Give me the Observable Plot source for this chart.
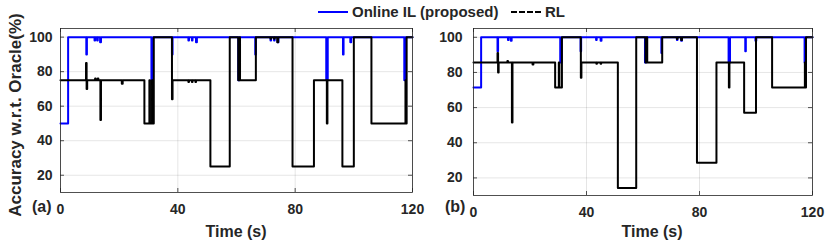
<!DOCTYPE html>
<html><head><meta charset="utf-8">
<script src="https://cdn.jsdelivr.net/npm/d3@7"></script>
<script src="https://cdn.jsdelivr.net/npm/@observablehq/plot@0.6"></script>
<style>
body{margin:0;background:#fff;}
#wrap{position:relative;width:830px;height:244px;font-family:"Liberation Sans",Arial,sans-serif;font-weight:bold;color:#262626;overflow:hidden;background:#fff}
.abs{position:absolute;white-space:nowrap;line-height:1}
svg{position:absolute;top:0}
</style></head><body><div id="wrap"></div>
<script>
// ---- tick labels / categories ----
const xTicks = [0, 40, 80, 120];
const yTicks = [20, 40, 60, 80, 100];
const seriesNames = ["Online IL (proposed)", "RL"];
const seriesColors = ["#0000ff", "#000000"];
const panelLabels = ["(a)", "(b)"];
const xTitle = "Time (s)";
const yTitle = "Accuracy w.r.t. Oracle(%)";

// ---- panel (a): Online IL (step breakpoints: time, accuracy) ----
const aIL_t = [0, 2.6, 8.8, 9.0, 11.6, 11.8, 12.5, 12.7, 13.5, 13.8, 31.0, 31.5, 38.0, 38.2, 43.6, 43.8, 44.8, 45.0, 46.2, 46.5, 60.6, 61.0, 66.4, 66.6, 71.6, 71.8, 72.8, 73.0, 74.0, 74.3, 90.6, 91.1, 96.3, 96.5, 98.8, 99.1, 117.2, 117.6, 120];
const aIL_v = [50, 100, 90, 100, 98, 100, 98, 100, 97, 100, 75, 100, 90, 100, 98, 100, 98, 100, 97, 100, 75, 100, 90, 100, 98, 100, 98, 100, 97, 100, 75, 100, 90, 100, 97, 100, 75, 100, 100];
// ---- panel (a): RL ----
const aRL_t = [0, 8.7, 8.9, 9.1, 11.8, 12.0, 12.7, 12.9, 13.6, 13.8, 20.9, 21.2, 28.6, 30.3, 30.5, 31.2, 31.4, 31.8, 38.0, 38.2, 43.6, 43.8, 44.8, 45.0, 46.0, 46.2, 51.1, 57.7, 60.6, 61.0, 61.2, 66.6, 71.6, 71.8, 72.8, 73.0, 73.9, 74.2, 79.1, 86.4, 90.8, 91.0, 96.1, 100.0, 106.0, 117.6, 117.8, 118.0, 120];
const aRL_v = [75, 85, 70, 75, 76, 75, 76, 75, 52, 75, 73, 75, 50, 75, 50, 75, 50, 100, 64, 75, 74, 75, 74, 75, 74, 75, 25, 100, 75, 100, 75, 100, 99, 100, 99, 100, 97, 100, 25, 75, 50, 75, 25, 100, 50, 75, 50, 100, 100];

// ---- panel (b): Online IL ----
const bIL_t = [0, 2.7, 8.5, 8.7, 12.2, 12.4, 13.2, 13.5, 30.7, 31.2, 37.9, 38.1, 43.4, 43.6, 45.0, 45.3, 60.7, 61.1, 66.5, 66.7, 72.0, 72.2, 73.5, 73.8, 90.3, 90.8, 96.2, 96.4, 99.8, 100.1, 117.2, 117.6, 120];
const bIL_v = [71.4, 100, 92, 100, 98.5, 100, 98, 100, 85.7, 100, 92, 100, 98.5, 100, 98, 100, 85.7, 100, 91, 100, 98.5, 100, 98, 100, 85.7, 100, 92, 100, 98, 100, 85.7, 100, 100];
// ---- panel (b): RL ----
const bRL_t = [0, 8.5, 8.7, 8.9, 12.0, 12.2, 13.6, 13.8, 20.9, 21.2, 28.9, 30.2, 30.4, 31.3, 38.0, 38.2, 43.5, 43.7, 45.0, 45.2, 51.1, 57.6, 60.9, 61.3, 61.5, 66.8, 72.0, 72.2, 73.5, 73.8, 79.1, 86.0, 90.4, 90.6, 95.8, 100.0, 105.7, 117.3, 117.5, 117.7, 120];
const bRL_v = [85.7, 91, 80, 85.7, 86.5, 85.7, 51.5, 85.7, 84.5, 85.7, 71.4, 85.7, 71.4, 100, 77, 85.7, 85, 85.7, 85, 85.7, 14.3, 100, 85.7, 100, 85.7, 100, 99, 100, 98.5, 100, 28.6, 85.7, 71.4, 85.7, 57.1, 100, 71.4, 85.7, 71.4, 100, 100];

const H = 244;
const FONT = '"Liberation Sans", Arial, sans-serif';

function panel({ilT, ilV, rlT, rlV, width, ml, mr, mt, mb, padY}) {
  const il = ilT.map((t, i) => ({t, v: ilV[i]}));
  const rl = rlT.map((t, i) => ({t, v: rlV[i]}));
  const fw = width - ml - mr, fh = H - mt - mb;
  const axisCol = "#262626";
  return Plot.plot({
    width, height: H, marginLeft: ml, marginRight: mr, marginTop: mt, marginBottom: mb,
    x: {domain: [0, 120]},
    y: {domain: [10, 105]},
    style: {fontFamily: FONT, fontSize: "14px", fontWeight: "bold", color: axisCol, background: "transparent", overflow: "visible"},
    marks: [
      Plot.gridX(xTicks, {stroke: "#000", strokeOpacity: 0.1, strokeWidth: 1}),
      Plot.gridY(yTicks, {stroke: "#000", strokeOpacity: 0.1, strokeWidth: 1}),
      Plot.line(il, {x: "t", y: "v", curve: "step-after", stroke: seriesColors[0], strokeWidth: 2}),
      Plot.line(rl, {x: "t", y: "v", curve: "step-after", stroke: seriesColors[1], strokeWidth: 2}),
      Plot.frame({stroke: axisCol, strokeWidth: 0.8}),
      Plot.tickY(yTicks, {y: d => d, insetRight: fw - 4, stroke: axisCol, strokeWidth: 0.8}),
      Plot.tickY(yTicks, {y: d => d, insetLeft: fw - 4, stroke: axisCol, strokeWidth: 0.8}),
      Plot.tickX(xTicks, {x: d => d, insetTop: fh - 4, stroke: axisCol, strokeWidth: 0.8}),
      Plot.tickX(xTicks, {x: d => d, insetBottom: fh - 4, stroke: axisCol, strokeWidth: 0.8}),
      Plot.axisX(xTicks, {tickSize: 0, tickPadding: 12, label: null, fontSize: 14, fontWeight: "bold"}),
      Plot.axisY(yTicks, {tickSize: 0, tickPadding: padY, label: null, fontSize: 14, fontWeight: "bold"})
    ]
  });
}

const wrap = document.getElementById("wrap");
const pa = panel({ilT: aIL_t, ilV: aIL_v, rlT: aRL_t, rlV: aRL_v, width: 420, ml: 60, mr: 8, mt: 28, mb: 52, padY: 8});
pa.style.left = "0px";
wrap.appendChild(pa);
const pb = panel({ilT: bIL_t, ilV: bIL_v, rlT: bRL_t, rlV: bRL_v, width: 410, ml: 53, mr: 18, mt: 28, mb: 49, padY: 11});
pb.style.left = "420px";
wrap.appendChild(pb);

function addText(txt, left, top, size, extra) {
  const d = document.createElement("div");
  d.className = "abs";
  d.textContent = txt;
  d.style.left = left + "px";
  d.style.top = top + "px";
  d.style.fontSize = size + "px";
  if (extra) Object.assign(d.style, extra);
  wrap.appendChild(d);
  return d;
}
function addLine(left, top, w, color, dashed) {
  const d = document.createElement("div");
  d.style.position = "absolute";
  d.style.left = left + "px";
  d.style.top = top + "px";
  d.style.width = w + "px";
  d.style.height = "0px";
  d.style.borderTop = "2px " + (dashed ? "dashed " : "solid ") + color;
  wrap.appendChild(d);
}
// legend
addLine(318, 11, 30, seriesColors[0], false);
addText(seriesNames[0], 352, 4, 15);
addLine(511, 11, 30, seriesColors[1], true);
addText(seriesNames[1], 545, 4, 15);
// panel labels
addText(panelLabels[0], 32, 199, 16);
addText(panelLabels[1], 445, 199, 16);
// x titles
addText(xTitle, 236, 224, 16, {transform: "translateX(-50%)"});
addText(xTitle, 652, 224, 16, {transform: "translateX(-50%)"});
// y title
addText(yTitle, 15, 115, 17, {transform: "translate(-50%,-50%) rotate(-90deg)"});
</script></body></html>
